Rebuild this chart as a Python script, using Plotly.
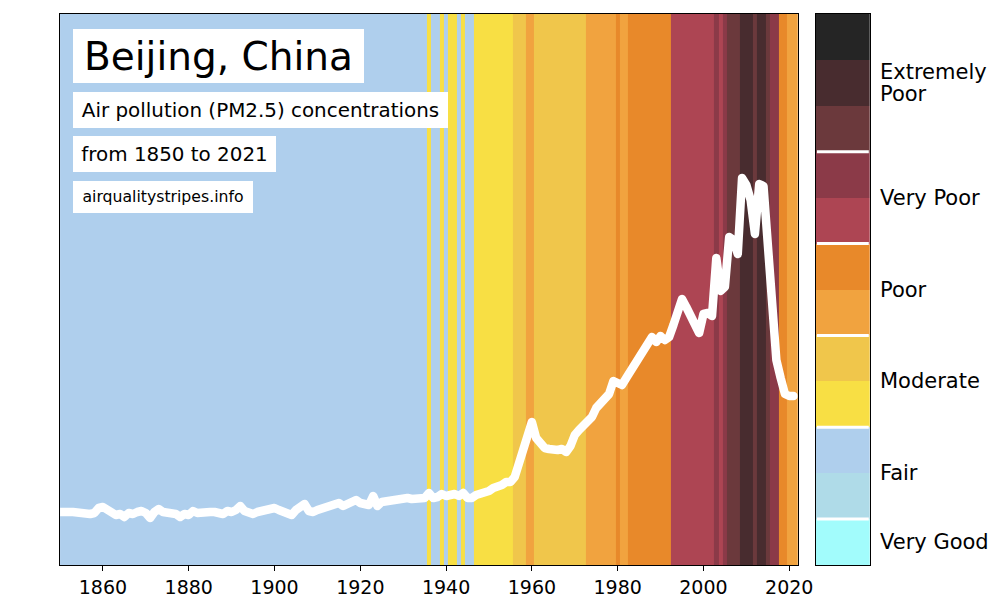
import plotly.graph_objects as go

# ---------------- data ----------------
years = list(range(1850, 2022))

# PM2.5 curve (white line)
pm25 = [
    10.6, 10.8, 10.6, 10.6, 10.4, 10.6, 10.4, 10.2, 10.4, 11.4,   # 1850s
    11.6, 11.2, 10.6, 10.0, 10.2, 9.6, 10.4, 10.2, 10.6, 10.8,    # 1860s
    10.4, 9.4, 10.6, 11.2, 10.6, 10.6, 10.4, 10.2, 9.6, 10.2,     # 1870s
    10.0, 10.8, 10.4, 10.6, 10.4, 10.6, 10.6, 10.4, 10.2, 10.8,   # 1880s
    10.6, 11.0, 11.8, 10.8, 10.6, 10.2, 10.6, 10.8, 10.6, 11.0,   # 1890s
    11.4, 11.0, 10.6, 10.4, 10.0, 11.0, 11.4, 12.2, 10.8, 10.6,   # 1900s
    11.0, 11.2, 11.4, 11.6, 11.8, 12.4, 11.8, 12.2, 12.6, 13.0,   # 1910s
    12.4, 12.2, 12.0, 13.8, 11.8, 12.6, 12.8, 12.6, 12.8, 13.0,   # 1920s
    13.2, 13.4, 13.2, 13.4, 13.6, 13.4, 14.4, 13.4, 13.6, 14.2,   # 1930s
    13.8, 14.0, 14.2, 13.8, 14.4, 13.4, 13.4, 14.0, 14.2, 14.4,   # 1940s
    14.8, 15.4, 15.6, 16.0, 16.6, 16.6, 17.6, 20.4, 23.8, 26.6,   # 1950s
    28.6, 25.4, 24.0, 23.4, 23.2, 23.0, 23.0, 23.2, 22.6, 23.8,   # 1960s
    26.0, 27.0, 28.0, 29.0, 29.6, 31.4, 32.2, 33.4, 34.2, 36.8,   # 1970s
    36.6, 36.0, 37.4, 38.8, 39.4, 41.2, 42.2, 43.6, 45.6, 44.6,   # 1980s
    45.8, 45.0, 45.6, 48.0, 51.0, 53.2, 51.6, 49.6, 47.6, 46.4,   # 1990s
    50.2, 50.4, 49.8, 61.4, 54.8, 55.6, 65.6, 65.0, 62.2, 77.4,   # 2000s
    76.0, 73.0, 66.2, 76.2, 75.8, 64.4, 47.8, 41.0, 37.4, 34.2,   # 2010s
    33.8, 33.8,                                                   # 2020s
]

# stripe category per year, as (band index, number of consecutive years)
band_runs = [
    (2, 86), (3, 1), (2, 2), (3, 1), (2, 1), (3, 2), (2, 1), (3, 1), (2, 2),
    (3, 9), (4, 3), (5, 2), (4, 12), (5, 7), (6, 1), (5, 2), (6, 10), (7, 10),
    (8, 1), (7, 1), (8, 1), (9, 3), (10, 3), (9, 1), (10, 2), (9, 1), (8, 2),
    (6, 2), (5, 2),
]

band_colors = [
    "#a2fcfc",  # 0 very good
    "#afdbe8",  # 1 fair (low)
    "#afcfed",  # 2 fair (high)
    "#f8df44",  # 3 moderate (low)
    "#f0c64b",  # 4 moderate (high)
    "#f1a33f",  # 5 poor (low)
    "#e8892a",  # 6 poor (high)
    "#ad4553",  # 7 very poor (low)
    "#8b3a48",  # 8 very poor (high)
    "#6b393c",  # 9 extremely poor
    "#482c2f",  # 10 extremely poor
    "#252525",  # 11 extremely poor (top)
]

cat_labels = ["Very Good", "Fair", "Moderate", "Poor", "Very Poor", "Extremely\nPoor"]
cat_bands = [[0], [1, 2], [3, 4], [5, 6], [7, 8], [9, 10, 11]]

x_ticks = [1860, 1880, 1900, 1920, 1940, 1960, 1980, 2000, 2020]
x_range = [1850, 2022]
y_max = 110.2

title_texts = ["Beijing, China", "Air pollution (PM2.5) concentrations",
               "from 1850 to 2021", "airqualitystripes.info"]

# ---------------- build ----------------
FONT = "DejaVu Sans"
W, H = 1000, 607
W_EFF = 984  # width actually used for the paper in the rendered page


def px(p):
    return p / W_EFF


def py(p):
    return 1 - p / H


band_codes = []
for b, n in band_runs:
    band_codes += [b] * n

nb = len(band_colors)
colorscale = []
for i, c in enumerate(band_colors):
    colorscale.append([i / nb, c])
    colorscale.append([(i + 1) / nb, c])

edges = [y - 0.5 for y in years] + [years[-1] + 1]

fig = go.Figure()
fig.add_trace(go.Heatmap(
    x=edges, y=[0, y_max], z=[band_codes], colorscale=colorscale,
    zmin=-0.5, zmax=nb - 0.5, showscale=False, hoverinfo="skip",
    xaxis="x", yaxis="y"))
fig.add_trace(go.Scatter(
    x=years, y=pm25, mode="lines",
    line=dict(color="white", width=8.5), hoverinfo="skip",
    xaxis="x", yaxis="y"))
fig.add_trace(go.Heatmap(
    x=[0], y=list(range(nb)), z=[[i] for i in range(nb)],
    colorscale=colorscale, zmin=-0.5, zmax=nb - 0.5, showscale=False,
    hoverinfo="skip", xaxis="x2", yaxis="y2"))

ydom = [py(565), py(14)]
frame = dict(showline=True, mirror=True, linecolor="black", linewidth=1.3,
             showgrid=False, zeroline=False)

fig.update_layout(
    width=W, height=H, autosize=False,
    margin=dict(l=0, r=0, t=0, b=0),
    paper_bgcolor="white", plot_bgcolor="white",
    showlegend=False,
    xaxis=dict(domain=[px(60), px(797)], range=x_range, tickvals=x_ticks,
               ticks="outside", ticklen=5, tickwidth=1.2, tickcolor="black",
               tickfont=dict(family=FONT, size=19, color="black"),
               anchor="y", **frame),
    yaxis=dict(domain=ydom, range=[0, y_max], showticklabels=False, ticks="",
               anchor="x", **frame),
    xaxis2=dict(domain=[px(815), px(869)], range=[-0.5, 0.5],
                showticklabels=False, ticks="", anchor="y2", **frame),
    yaxis2=dict(domain=ydom, range=[-0.5, nb - 0.5], showticklabels=False,
                ticks="", anchor="x2", **frame),
)

# white separators between categories on the colour key
shapes = []
for grp in cat_bands[1:]:
    b = grp[0] - 0.5
    shapes.append(dict(type="line", xref="x2 domain", yref="y2",
                       x0=0.02, x1=0.98, y0=b, y1=b,
                       line=dict(color="white", width=3), layer="above"))
fig.update_layout(shapes=shapes)

annotations = []
# category labels
for lab, grp in zip(cat_labels, cat_bands):
    lines = lab.split("\n")
    yc = sum(grp) / len(grp)
    for k, ln in enumerate(lines):
        shift = ((len(lines) - 1) / 2 - k) * 22
        annotations.append(dict(
            text=ln, xref="paper", yref="y2", x=px(877), y=yc,
            xanchor="left", yanchor="middle", yshift=shift, showarrow=False,
            font=dict(family=FONT, size=21, color="black")))

# title boxes: (left, top, width, height, font size)
boxes = [(73, 29, 291, 54, 39), (73, 91.5, 375, 36, 19.9),
         (73, 136, 203, 36, 19.9), (73, 181, 180, 31.5, 15.7)]
for txt, (lx, ty, bw, bh, fs) in zip(title_texts, boxes):
    annotations.append(dict(
        text=txt, xref="paper", yref="paper", x=px(lx), y=py(ty),
        xanchor="left", yanchor="top", showarrow=False,
        width=bw, height=bh, align="center", valign="middle",
        bgcolor="white", borderpad=0, borderwidth=0,
        font=dict(family=FONT, size=fs, color="black")))
fig.update_layout(annotations=annotations)

post = (
    "document.body.style.margin='0px';"
    "document.body.style.overflow='hidden';"
    "var st=document.createElement('style');"
    "st.innerHTML='.js-line{stroke-linejoin:round;stroke-linecap:round;}';"
    "document.head.appendChild(st);"
)
fig.write_html("out.html",
               config={"responsive": False, "displayModeBar": False},
               post_script=post)
